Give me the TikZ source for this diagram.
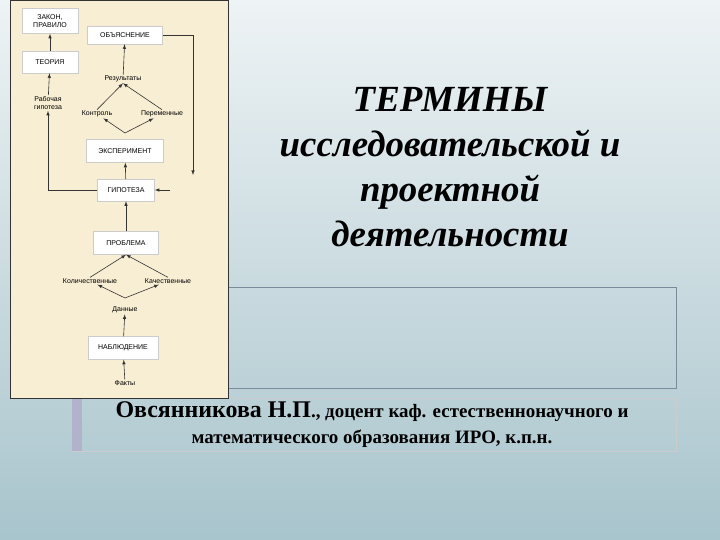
\documentclass[tikz,border=0pt]{standalone}
\usepackage{fontspec}
\setmainfont{Liberation Serif}
\newfontfamily\dsans{Liberation Sans}
\definecolor{bgtop}{HTML}{EEF3F5}
\definecolor{bgbot}{HTML}{A8C4CC}
\definecolor{cream}{HTML}{F8EED4}
\definecolor{frm}{HTML}{7A8C9C}
\begin{document}
\begin{tikzpicture}[x=1bp,y=-1bp,
  bx/.style={draw=gray!40,fill=white,font=\dsans\fontsize{7}{7.5}\selectfont,inner sep=2pt,minimum height=18bp,align=center},
  lb/.style={font=\dsans\fontsize{7}{8}\selectfont,inner sep=1pt,align=center},
  ar/.style={-latex,black!80,line width=0.6bp}]
\shade[top color=bgtop, bottom color=bgbot] (0,0) rectangle (720,540);
\useasboundingbox (0,0) rectangle (720,540);
% frames
\draw[frm,line width=0.9bp] (226,287) rectangle (676,388);
\draw[gray!40] (72,398) rectangle (676,451);
\fill[blue!20!gray!50] (72,398) rectangle (82,451);
\draw[black!80,fill=cream,line width=0.8bp] (10,0) rectangle (228,398);
% title
\node[font=\bfseries\itshape\fontsize{37}{45}\selectfont,align=center] (title) at (450,167)
 {ТЕРМИНЫ\\исследовательской и\\проектной\\деятельности};
\node[font=\bfseries\fontsize{19}{26}\selectfont,align=center] (auth) at (372,425)
 {{\fontsize{24}{26}\selectfont Овсянникова Н.П}., доцент каф. естественнонаучного и\\математического образования ИРО, к.п.н.};
% diagram
\node[bx,minimum width=56bp,minimum height=25bp] (zakon) at (50,21) {ЗАКОН,\\ПРАВИЛО};
\node[bx,minimum width=75bp] (obj) at (125,35) {ОБЪЯСНЕНИЕ};
\node[bx,minimum width=56bp,minimum height=22bp] (teor) at (50,62) {ТЕОРИЯ};
\node[lb] (res) at (123,79) {Результаты};
\node[lb] (rab) at (48,103) {Рабочая\\гипотеза};
\node[lb] (kon) at (97,114) {Контроль};
\node[lb] (per) at (162,114) {Переменные};
\node[bx,minimum width=77bp,minimum height=23bp] (eks) at (125,151) {ЭКСПЕРИМЕНТ};
\node[bx,minimum width=57bp,minimum height=22bp] (gip) at (126,190) {ГИПОТЕЗА};
\node[bx,minimum width=65bp,minimum height=23bp] (prob) at (126,243) {ПРОБЛЕМА};
\node[lb] (kol) at (90,281) {Количественные};
\node[lb] (kach) at (168,281) {Качественные};
\node[lb] (dan) at (125,310) {Данные};
\node[bx,minimum width=70bp,minimum height=23bp] (nabl) at (123,348) {НАБЛЮДЕНИЕ};
\node[lb] (fak) at (125,383) {Факты};
\coordinate (ea) at (125,133);
\coordinate (da) at (125,298);
\coordinate (oe) at (193,175);
\coordinate (ge) at (170,190);
% arrows
\draw[ar] (fak) -- (nabl);
\draw[ar] (nabl) -- (dan);
\draw[ar] (da) -- (kol);
\draw[ar] (da) -- (kach);
\draw[ar] (kol.north) -- (prob.south);
\draw[ar] (kach.north) -- (prob.south);
\draw[ar] (prob) -- (gip);
\draw[ar] (gip) -- (eks);
\draw[ar] (ea) -- (kon);
\draw[ar] (ea) -- (per);
\draw[ar] (kon.north) -- (res.south);
\draw[ar] (per.north) -- (res.south);
\draw[ar] (res) -- (obj);
\draw[ar] (obj.east) -| (oe);
\draw[ar] (ge) -- (gip.east);
\draw[ar] (gip.west) -| (rab.south);
\draw[ar] (rab) -- (teor);
\draw[ar] (teor) -- (zakon);
\end{tikzpicture}
\end{document}
